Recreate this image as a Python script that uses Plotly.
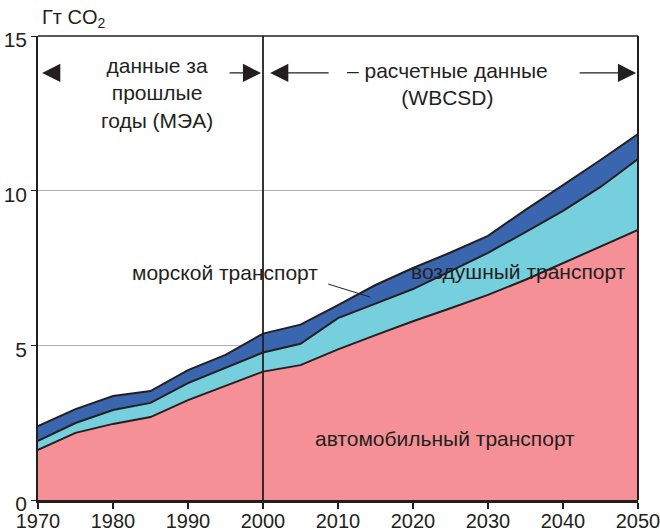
import plotly.graph_objects as go

years = [1970, 1975, 1980, 1985, 1990, 1995, 2000, 2005, 2010, 2015, 2020, 2025, 2030, 2035, 2040, 2045, 2050]
road = [1.62, 2.17, 2.46, 2.68, 3.23, 3.70, 4.15, 4.36, 4.87, 5.33, 5.78, 6.20, 6.63, 7.12, 7.65, 8.20, 8.73]
air_top = [1.91, 2.49, 2.91, 3.14, 3.78, 4.28, 4.77, 5.05, 5.88, 6.35, 6.82, 7.40, 7.99, 8.66, 9.35, 10.12, 11.02]
total = [2.39, 2.94, 3.36, 3.52, 4.20, 4.69, 5.38, 5.67, 6.30, 6.95, 7.50, 8.00, 8.54, 9.38, 10.18, 10.99, 11.83]
air = [round(a - r, 3) for a, r in zip(air_top, road)]
sea = [round(t - a, 3) for t, a in zip(total, air_top)]

x_ticks = [1970, 1980, 1990, 2000, 2010, 2020, 2030, 2040, 2050]
y_ticks = [0, 5, 10, 15]

INK = "#231f20"
FONT = "Liberation Sans, Arial, sans-serif"

fig = go.Figure()
for name, vals, col in [("автомобильный транспорт", road, "#f59196"),
                        ("воздушный транспорт", air, "#76cfdc"),
                        ("морской транспорт", sea, "#3a66b0")]:
    fig.add_trace(go.Scatter(x=years, y=vals, name=name, stackgroup="one", mode="lines",
                             line=dict(color=INK, width=2), fillcolor=col, hoverinfo="skip"))

fig.update_layout(
    width=660, height=532,
    margin=dict(l=38, r=22, t=36, b=32, autoexpand=False),
    plot_bgcolor="white", paper_bgcolor="white",
    showlegend=False,
    font=dict(family=FONT, color=INK, size=21),
    xaxis=dict(range=[1970, 2050], tickvals=x_ticks, showgrid=False, zeroline=False,
               automargin=False, ticklabeloverflow="allow",
               showline=True, linecolor=INK, linewidth=3, ticks="outside", ticklen=6,
               tickwidth=1.5, tickcolor=INK, tickfont=dict(size=20, color=INK),
               ticklabelstandoff=-5),
    yaxis=dict(range=[0, 15], tickvals=y_ticks, showgrid=True, gridcolor="#b0b0b0", gridwidth=1,
               automargin=False, ticklabeloverflow="allow", ticklabelshift=4,
               zeroline=False, showline=True, linecolor=INK, linewidth=1.5, ticks="outside",
               ticklen=5, tickwidth=1, tickcolor=INK, tickfont=dict(size=21, color=INK)),
)

# frame and 2000 divider
fig.add_shape(type="line", xref="paper", yref="paper", x0=0, x1=1, y0=1, y1=1,
              line=dict(color=INK, width=1.5), layer="above")
fig.add_shape(type="line", xref="paper", yref="paper", x0=1, x1=1, y0=0, y1=1,
              line=dict(color=INK, width=2), layer="above")
fig.add_shape(type="line", xref="x", yref="paper", x0=2000, x1=2000, y0=0, y1=1,
              line=dict(color=INK, width=1.8), layer="above")
# leader line for sea label
fig.add_shape(type="line", xref="x", yref="y", x0=2008.7, y0=6.98, x1=2014.3, y1=6.56,
              line=dict(color=INK, width=1), layer="above")

def txt(x, y, s, **kw):
    fig.add_annotation(x=x, y=y, xref="x", yref="y", text=s, showarrow=False,
                       font=dict(family=FONT, size=21, color=INK), **kw)

txt(1985.9, 13.15, "данные за<br>прошлые<br>годы (МЭА)", align="center")
txt(2024.6, 13.45, "– расчетные данные<br>(WBCSD)", align="center")
txt(1994.9, 7.37, "морской транспорт")
txt(2034.0, 7.40, "воздушный транспорт")
txt(2024.2, 2.0, "автомобильный транспорт")

def arrow(x, y, ax):
    fig.add_annotation(x=x, y=y, xref="x", yref="y", ax=ax, ay=0, axref="pixel", ayref="pixel",
                       text="", showarrow=True, arrowhead=2, arrowsize=2.8, arrowwidth=1.3,
                       arrowcolor=INK)

ya = (500 - 73) / 30.93
arrow(1970.55, ya, 16)
arrow(1999.75, ya, -33)
arrow(2000.95, ya, 60)
arrow(2049.75, ya, -58)

fig.add_annotation(xref="paper", yref="paper", x=0.003, y=1 + 18 / 464, xanchor="left",
                   yanchor="middle", text="Гт CO<sub>2</sub>", showarrow=False,
                   font=dict(family=FONT, size=20, color=INK))

fig.write_html("out.html", config={"displayModeBar": False},
               post_script="document.body.style.margin='0';document.body.style.overflow='hidden';")
